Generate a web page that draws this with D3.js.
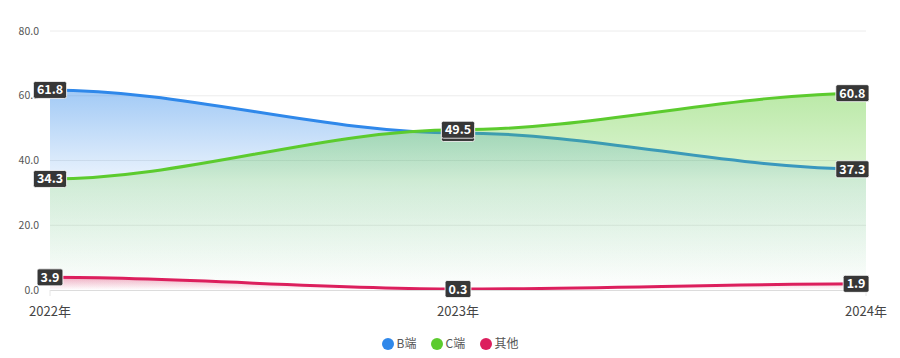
<!DOCTYPE html>
<html><head><meta charset="utf-8">
<script src="https://cdn.jsdelivr.net/npm/d3@7"></script>
<style>body{margin:0;background:#fff;}svg{display:block;font-family:"Noto Sans CJK SC","Noto Sans",sans-serif;}</style>
</head><body><svg id="c" width="900" height="358"></svg>
<script>
const categories = ["2022年","2023年","2024年"];
const seriesNames = ["B端","C端","其他"];
const bValues = [61.8, 48.5, 37.3];
const cValues = [34.3, 49.5, 60.8];
const otherValues = [3.9, 0.3, 1.9];
const yTicks = [0, 20, 40, 60, 80];
const colors = ["#2f88ea", "#5ccb2e", "#dc1f5d"];
// gradient stops per series: [offset, opacity]
const gradStops = [
  [[0, 0.45], [0.45, 0.1], [1, 0]],
  [[0, 0.42], [0.5, 0.17], [1, 0]],
  [[0, 0.35], [1, 0]]
];

const series = [bValues, cValues, otherValues].map((v, i) => ({name: seriesNames[i], values: v, color: colors[i]}));

// smooth curve with horizontal tangents at every point (control points at 1/3 of the span)
class FlatSmooth {
  constructor(context) { this._context = context; }
  areaStart() { this._line = 0; }
  areaEnd() { this._line = NaN; }
  lineStart() { this._point = 0; }
  lineEnd() {
    if (this._line || (this._line !== 0 && this._point === 1)) this._context.closePath();
    this._line = 1 - this._line;
  }
  point(px, py) {
    px = +px; py = +py;
    if (this._point === 0) {
      this._point = 1;
      if (this._line) this._context.lineTo(px, py); else this._context.moveTo(px, py);
    } else {
      this._point = 2;
      const dx = px - this._x0;
      this._context.bezierCurveTo(this._x0 + dx / 3, this._y0, px - dx / 3, py, px, py);
    }
    this._x0 = px; this._y0 = py;
  }
}
const curveFlatSmooth = ctx => new FlatSmooth(ctx);

const svg = d3.select("#c");
const x = d3.scalePoint().domain(categories).range([50, 866]);
const y = d3.scaleLinear().domain([0, 80]).range([290, 31]);

// grid
svg.append("g").selectAll("line").data(yTicks.filter(t => t > 0)).join("line")
  .attr("x1", 50).attr("x2", 866).attr("y1", d => y(d)).attr("y2", d => y(d))
  .attr("stroke", "#ececec").attr("stroke-width", 1);

// y labels
svg.append("g").selectAll("text").data(yTicks).join("text")
  .attr("x", 39).attr("y", d => y(d)).attr("dy", "0.35em").attr("text-anchor", "end")
  .attr("font-size", 10.5).attr("fill", "#555").text(d => d.toFixed(1));

const defs = svg.append("defs");
series.forEach((s, i) => {
  const top = y(d3.max(s.values));
  const g = defs.append("linearGradient").attr("id", "grad" + i)
    .attr("gradientUnits", "userSpaceOnUse").attr("x1", 0).attr("x2", 0).attr("y1", top).attr("y2", y(0));
  gradStops[i].forEach(([o, a]) => g.append("stop").attr("offset", o).attr("stop-color", s.color).attr("stop-opacity", a));
});

const area = d3.area().x((d, j) => x(categories[j])).y0(y(0)).y1(d => y(d)).curve(curveFlatSmooth);
const line = d3.line().x((d, j) => x(categories[j])).y(d => y(d)).curve(curveFlatSmooth);

series.forEach((s, i) => {
  svg.append("path").datum(s.values).attr("d", area).attr("fill", `url(#grad${i})`);
  svg.append("path").datum(s.values).attr("d", line).attr("fill", "none")
    .attr("stroke", s.color).attr("stroke-width", 3).attr("stroke-linecap", "round");
});

// x axis baseline and ticks
svg.append("line").attr("x1", 50).attr("x2", 866).attr("y1", y(0) + 0.5).attr("y2", y(0) + 0.5)
  .attr("stroke", "#dcdcdc");
svg.append("g").selectAll("line").data(categories).join("line")
  .attr("x1", d => x(d)).attr("x2", d => x(d)).attr("y1", y(0)).attr("y2", y(0) + 6)
  .attr("stroke", "#e6e6e6");
svg.append("g").selectAll("text").data(categories).join("text")
  .attr("x", d => x(d)).attr("y", 311).attr("dy", "0.35em").attr("text-anchor", "middle")
  .attr("font-size", 13).attr("fill", "#444").text(d => d);

// data labels
const labelG = svg.append("g");
series.forEach((s, i) => {
  s.values.forEach((v, j) => {
    const txt = v.toFixed(1);
    const g = labelG.append("g");
    const t = g.append("text").attr("font-size", 12.5).attr("font-weight", "bold").attr("fill", "#fff")
      .attr("text-anchor", "middle").attr("dy", "0.36em").text(txt);
    const w = t.node().getComputedTextLength() + 7;
    let cx = x(categories[j]);
    if (cx + w / 2 > 869) cx = 869 - w / 2;
    const cy = y(v);
    g.insert("rect", "text").attr("x", cx - w / 2).attr("y", cy - 8.5).attr("width", w).attr("height", 17)
      .attr("rx", 2).attr("fill", "#373737").attr("stroke", "rgba(255,255,255,0.8)").attr("stroke-width", 1);
    t.attr("x", cx).attr("y", cy);
  });
});

// legend
const legendX = [388, 437, 486];
const lg = svg.append("g");
series.forEach((s, i) => {
  lg.append("circle").attr("cx", legendX[i]).attr("cy", 344).attr("r", 6).attr("fill", s.color);
  lg.append("text").attr("x", legendX[i] + 8.5).attr("y", 344).attr("dy", "0.35em")
    .attr("font-size", 12).attr("fill", "#555").text(s.name);
});
</script></body></html>
